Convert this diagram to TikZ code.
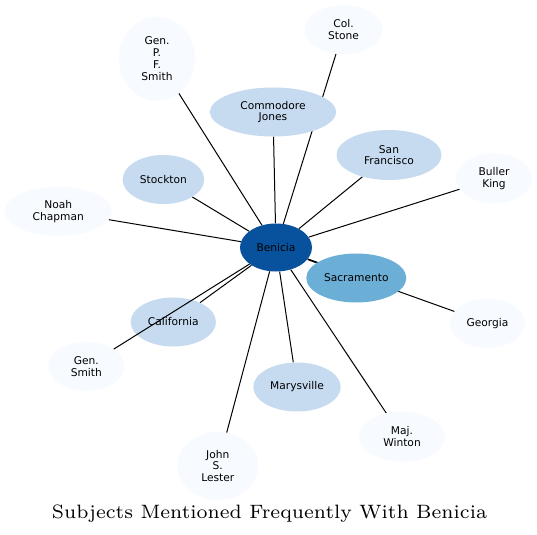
\documentclass[tikz,border=0pt]{standalone}
\usepackage{fontspec}
\newfontfamily\nodefont{DejaVu Sans}
\usetikzlibrary{shapes.geometric}
\pgfdeclarelayer{bg}
\pgfsetlayers{bg,main}
\definecolor{bdark}{HTML}{08519C}
\definecolor{bmid}{HTML}{6BAED6}
\definecolor{blight}{HTML}{C6DBEF}
\definecolor{bpale}{HTML}{F7FBFF}
\tikzset{
  subj/.style={ellipse, draw=none, inner sep=0pt, align=center,
    font=\nodefont\fontsize{10.7}{11.8}\selectfont, text=black},
  hub/.style={subj, fill=bdark},
  lvlA/.style={subj, fill=bmid},
  lvlB/.style={subj, fill=blight},
  lvlC/.style={subj, fill=bpale},
  link/.style={draw=black, line width=1bp},
}
\begin{document}
\begin{tikzpicture}[x=1bp,y=-1bp]
\useasboundingbox (0,0) rectangle (537,535);

\node[hub,  minimum width=72bp,  minimum height=48bp] (ben)  at (276,247.5) {Benicia};
\node[lvlA, minimum width=100bp, minimum height=49bp] (sac)  at (356.3,278) {Sacramento};
\node[lvlB, minimum width=126bp, minimum height=49bp] (cj)   at (273,112) {Commodore\\Jones};
\node[lvlC, minimum width=76bp,  minimum height=84bp] (gpfs) at (157,58.7) {Gen.\\P.\\F.\\Smith};
\node[lvlC, minimum width=78bp,  minimum height=49bp] (cs)   at (343.5,29.7) {Col.\\Stone};
\node[lvlB, minimum width=81.5bp, minimum height=49bp] (st)  at (163.4,179.5) {Stockton};
\node[lvlB, minimum width=105bp, minimum height=50bp] (sf)   at (389,155) {San\\Francisco};
\node[lvlC, minimum width=76bp,  minimum height=50bp] (bk)   at (494,178.3) {Buller\\King};
\node[lvlC, minimum width=75bp,  minimum height=49bp] (ge)   at (487.5,323.3) {Georgia};
\node[lvlC, minimum width=106.7bp, minimum height=49bp] (nc) at (58.3,211.3) {Noah\\Chapman};
\node[lvlB, minimum width=85.3bp, minimum height=49bp] (ca)  at (173.3,322) {California};
\node[lvlC, minimum width=76bp,  minimum height=49bp] (gs)   at (86.3,366.3) {Gen.\\Smith};
\node[lvlB, minimum width=87.4bp, minimum height=49bp] (ma)  at (297,387) {Marysville};
\node[lvlC, minimum width=81bp,  minimum height=68bp] (jsl)  at (217.8,466) {John\\S.\\Lester};
\node[lvlC, minimum width=86bp,  minimum height=50bp] (mw)   at (402,436.7) {Maj.\\Winton};

\begin{pgfonlayer}{bg}
\fill[white] (0,0) rectangle (537,535);
\foreach \t in {sac,cj,gpfs,cs,st,sf,bk,ge,nc,ca,ma,jsl,mw}
  \draw[link] (ben) -- (\t);
\end{pgfonlayer}
\draw[link] (ben) -- (gs);

\node[inner sep=0pt] (title) at (269.5,513.5) {\resizebox{435bp}{!}{\fontsize{7}{8}\selectfont Subjects Mentioned Frequently With Benicia}};
\end{tikzpicture}
\end{document}
